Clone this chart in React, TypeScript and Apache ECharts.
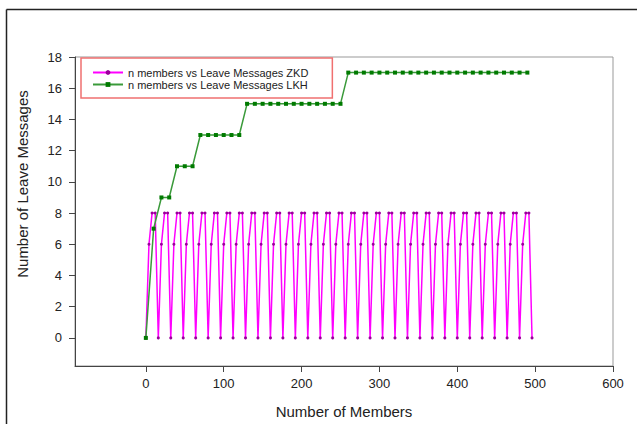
import React, { useEffect, useRef } from "react";
import * as echarts from "echarts";

// ZKD series (magenta)
const zkdMembers = [
  0, 4, 8, 12, 16, 20, 24, 28, 32, 36, 40, 44, 48, 52, 56, 60, 64, 68, 72, 76,
  80, 84, 88, 92, 96, 100, 104, 108, 112, 116, 120, 124, 128, 132, 136, 140, 144,
  148, 152, 156, 160, 164, 168, 172, 176, 180, 184, 188, 192, 196, 200, 204, 208,
  212, 216, 220, 224, 228, 232, 236, 240, 244, 248, 252, 256, 260, 264, 268, 272,
  276, 280, 284, 288, 292, 296, 300, 304, 308, 312, 316, 320, 324, 328, 332, 336,
  340, 344, 348, 352, 356, 360, 364, 368, 372, 376, 380, 384, 388, 392, 396, 400,
  404, 408, 412, 416, 420, 424, 428, 432, 436, 440, 444, 448, 452, 456, 460, 464,
  468, 472, 476, 480, 484, 488, 492, 496,
];
const zkdMessages = [
  0, 6, 8, 8, 0, 6, 8, 8, 0, 6, 8, 8, 0, 6, 8, 8, 0, 6, 8, 8, 0, 6, 8, 8,
  0, 6, 8, 8, 0, 6, 8, 8, 0, 6, 8, 8, 0, 6, 8, 8, 0, 6, 8, 8, 0, 6, 8, 8,
  0, 6, 8, 8, 0, 6, 8, 8, 0, 6, 8, 8, 0, 6, 8, 8, 0, 6, 8, 8, 0, 6, 8, 8,
  0, 6, 8, 8, 0, 6, 8, 8, 0, 6, 8, 8, 0, 6, 8, 8, 0, 6, 8, 8, 0, 6, 8, 8,
  0, 6, 8, 8, 0, 6, 8, 8, 0, 6, 8, 8, 0, 6, 8, 8, 0, 6, 8, 8, 0, 6, 8, 8,
  0, 6, 8, 8,
  0,
];

// LKH series (green)
const lkhMembers = [
  0, 10, 20, 30, 40, 50, 60, 70, 80, 90, 100, 110, 120, 130, 140, 150, 160, 170,
  180, 190, 200, 210, 220, 230, 240, 250, 260, 270, 280, 290, 300, 310, 320, 330,
  340, 350, 360, 370, 380, 390, 400, 410, 420, 430, 440, 450, 460, 470, 480, 490,
];
const lkhMessages = [
  0, 7, 9, 9, 11, 11, 11, 13, 13, 13, 13, 13, 13, 15, 15, 15, 15, 15, 15, 15,
  15, 15, 15, 15, 15, 15, 17, 17, 17, 17, 17, 17, 17, 17, 17, 17, 17, 17, 17, 17,
  17, 17, 17, 17, 17, 17, 17, 17, 17, 17,
];

const xTicks = [0, 100, 200, 300, 400, 500, 600];
const yTicks = [0, 2, 4, 6, 8, 10, 12, 14, 16, 18];

const seriesNames = [
  "n members vs Leave Messages ZKD",
  "n members vs Leave Messages LKH",
];

export default function App() {
  const ref = useRef<HTMLDivElement>(null);
  useEffect(() => {
    if (!ref.current) return;
    const chart = echarts.init(ref.current, undefined, { renderer: "svg" });
    const font = "'Liberation Sans', Arial, sans-serif";
    chart.setOption({
      animation: false,
      backgroundColor: "#ffffff",
      textStyle: { fontFamily: font },
      grid: {
        left: 75,
        right: 24,
        top: 57,
        bottom: 53,
        show: true,
        borderColor: "#999999",
        borderWidth: 1,
      },
      legend: {
        orient: "vertical",
        left: 81,
        top: 58,
        padding: [9, 24, 8, 11],
        itemGap: 1,
        itemWidth: 30,
        itemHeight: 6,
        borderColor: "#f07070",
        borderWidth: 1.5,
        textStyle: { fontSize: 11, color: "#222222", fontFamily: font },
        data: seriesNames,
      },
      xAxis: {
        type: "value",
        min: -91,
        max: 600,
        name: "Number of Members",
        nameLocation: "middle",
        nameGap: 38,
        nameTextStyle: { fontSize: 15, color: "#222222", fontFamily: font },
        splitLine: { show: false },
        axisLine: { show: true, onZero: false, lineStyle: { color: "#444444", width: 1 } },
        axisTick: { show: true, customValues: xTicks, length: 6, lineStyle: { color: "#444444" } },
        axisLabel: { customValues: xTicks, fontSize: 13, color: "#222222", margin: 11, fontFamily: font },
      },
      yAxis: {
        type: "value",
        min: -1.8,
        max: 18,
        splitLine: { show: false },
        axisLine: { show: true, onZero: false, lineStyle: { color: "#444444", width: 1 } },
        axisTick: { show: true, customValues: yTicks, length: 6, lineStyle: { color: "#444444" } },
        axisLabel: { customValues: yTicks, fontSize: 13, color: "#222222", margin: 13, fontFamily: font },
      },
      graphic: [
        {
          type: "line",
          shape: { x1: 6.5, y1: 9.5, x2: 637, y2: 9.5 },
          style: { stroke: "#222222", lineWidth: 1.5 },
        },
        {
          type: "line",
          shape: { x1: 6.5, y1: 9.5, x2: 6.5, y2: 424 },
          style: { stroke: "#222222", lineWidth: 1.5 },
        },
        {
          type: "text",
          x: 22,
          y: 184,
          rotation: Math.PI / 2,
          style: {
            text: "Number of Leave Messages",
            fontSize: 15,
            fill: "#222222",
            fontFamily: font,
            align: "center",
            verticalAlign: "middle",
          },
        },
      ],
      series: [
        {
          name: seriesNames[0],
          type: "line",
          data: zkdMembers.map((m, i) => [m, zkdMessages[i]]),
          symbol: "circle",
          symbolSize: 3,
          lineStyle: { color: "#ff00ff", width: 1.5 },
          itemStyle: { color: "#9a009a" },
          z: 2,
        },
        {
          name: seriesNames[1],
          type: "line",
          data: lkhMembers.map((m, i) => [m, lkhMessages[i]]),
          symbol: "rect",
          symbolSize: 4,
          lineStyle: { color: "#3a9a3a", width: 1.5 },
          itemStyle: { color: "#007a00" },
          z: 3,
        },
      ],
    });
    return () => chart.dispose();
  }, []);
  return <div ref={ref} style={{ width: 637, height: 424, position: "absolute", left: 0, top: 0 }} />;
}
